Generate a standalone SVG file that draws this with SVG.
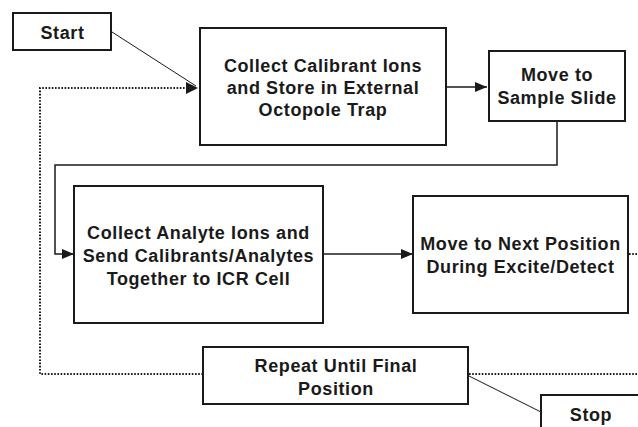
<svg xmlns="http://www.w3.org/2000/svg" width="638" height="427" viewBox="0 0 638 427">
<defs>
<marker id="ah" markerUnits="userSpaceOnUse" markerWidth="12" markerHeight="10" refX="12" refY="5" orient="auto">
<path d="M0,0 L12,5 L0,10 z" fill="#1a1a1a"/>
</marker>
<style>
.box{fill:#fff;stroke:#1a1a1a;stroke-width:2}
.t{font-family:"Liberation Sans",Arial,sans-serif;font-weight:bold;font-size:18px;letter-spacing:0.6px;fill:#1a1a1a;text-anchor:middle}
.c{fill:none;stroke:#1a1a1a;stroke-width:1.5}
.thin{fill:none;stroke:#1a1a1a;stroke-width:1}
.dot{fill:none;stroke:#1a1a1a;stroke-width:2;stroke-dasharray:1.6 1.6}
</style>
</defs>
<rect width="638" height="427" fill="#fff"/>
<g id="connectors">
<line class="thin" x1="112" y1="32" x2="196" y2="86"/>
<polyline class="dot" points="203,374 40,374 40,88 186,88"/>
<path d="M186,82 L198,88 L186,94 z" fill="#1a1a1a"/>
<line class="c" x1="446" y1="87" x2="487" y2="87" marker-end="url(#ah)"/>
<polyline class="c" points="557,121 557,165 55,165 55,254 74,254" marker-end="url(#ah)"/>
<line class="c" x1="323" y1="254" x2="413" y2="254" marker-end="url(#ah)"/>
<line class="dot" x1="629" y1="254" x2="638" y2="254"/>
<line class="dot" x1="469" y1="374" x2="638" y2="374"/>
<line class="thin" x1="469" y1="376" x2="541" y2="412"/>
</g>
<g id="start">
<rect class="box" x="13" y="13" width="98" height="37"/>
<text class="t" x="62.5" y="39">Start</text>
</g>
<g id="collect-calibrant">
<rect class="box" x="200" y="28" width="246" height="117"/>
<text class="t" x="323" y="72">Collect Calibrant Ions</text>
<text class="t" x="323" y="94">and Store in External</text>
<text class="t" x="323" y="116">Octopole Trap</text>
</g>
<g id="move-sample">
<rect class="box" x="489" y="51" width="136" height="70"/>
<text class="t" x="557" y="81">Move to</text>
<text class="t" x="557" y="104">Sample Slide</text>
</g>
<g id="collect-analyte">
<rect class="box" x="74" y="186" width="249" height="137"/>
<text class="t" x="198.5" y="239">Collect Analyte Ions and</text>
<text class="t" x="198.5" y="262">Send Calibrants/Analytes</text>
<text class="t" x="198.5" y="285">Together to ICR Cell</text>
</g>
<g id="move-next">
<rect class="box" x="413" y="196" width="215" height="117"/>
<text class="t" x="520.5" y="250">Move to Next Position</text>
<text class="t" x="520.5" y="273">During Excite/Detect</text>
</g>
<g id="repeat">
<rect class="box" x="203" y="347" width="265" height="57"/>
<text class="t" x="336" y="372">Repeat Until Final</text>
<text class="t" x="336" y="395">Position</text>
</g>
<g id="stop">
<rect class="box" x="541" y="395" width="110" height="40"/>
<text class="t" x="591" y="421">Stop</text>
</g>
</svg>
